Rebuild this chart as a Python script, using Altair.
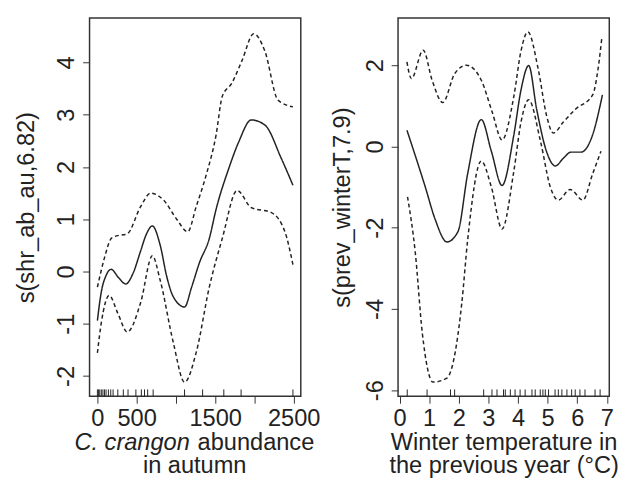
import altair as alt
import pandas as pd

FONT = "Liberation Sans"
INK = "#222222"

# ---- left panel: C. crangon abundance in autumn ----
fit_x_l = [0, 50, 110, 175, 270, 360, 450, 550, 620, 700, 800, 885, 965, 1110, 1200, 1300, 1425, 1510, 1675, 1800, 1960, 2135, 2340, 2490]
fit_y_l = [-0.94, -0.39, -0.08, 0.04, -0.12, -0.24, -0.05, 0.39, 0.7, 0.87, 0.5, -0.11, -0.48, -0.68, -0.3, 0.17, 0.63, 1.18, 1.98, 2.48, 2.9, 2.8, 2.17, 1.65]
up_x_l = [0, 90, 175, 220, 380, 550, 680, 840, 1010, 1150, 1260, 1390, 1510, 1590, 1710, 1840, 1990, 2130, 2300, 2490]
up_y_l = [-0.3, 0.26, 0.63, 0.67, 0.72, 1.24, 1.5, 1.37, 1.0, 0.76, 1.25, 1.87, 2.6, 3.35, 3.6, 4.03, 4.55, 4.23, 3.28, 3.15]
lo_x_l = [0, 50, 150, 260, 380, 550, 700, 800, 965, 1110, 1260, 1425, 1590, 1780, 1960, 2210, 2390, 2490]
lo_y_l = [-1.56, -0.98, -0.46, -0.8, -1.16, -0.6, 0.3, -0.17, -1.35, -2.12, -1.54, -0.3, 0.63, 1.55, 1.22, 1.13, 0.75, 0.13]
rug_l = [0, 15, 30, 50, 70, 90, 110, 140, 170, 200, 260, 330, 390, 490, 560, 600, 640, 710, 1110, 1340, 1610, 1830, 2490]
xticks_l = [0, 500, 1000, 1500, 2000, 2500]
yticks_l = [-2, -1, 0, 1, 2, 3, 4]

# ---- right panel: winter temperature in the previous year ----
fit_x_r = [0.25, 0.87, 1.2, 1.6, 1.97, 2.3, 2.76, 3.1, 3.46, 3.86, 4.1, 4.36, 4.63, 4.96, 5.26, 5.53, 5.79, 6.13, 6.5, 6.85]
fit_y_r = [0.4, -1.0, -1.79, -2.35, -2.1, -0.67, 0.66, -0.12, -0.96, 0.29, 1.39, 1.99, 0.91, -0.12, -0.48, -0.29, -0.14, -0.14, 0.25, 1.27]
up_x_r = [0.25, 0.4, 0.8, 1.1, 1.46, 1.86, 2.26, 2.76, 3.13, 3.46, 3.86, 4.1, 4.33, 4.69, 4.96, 5.19, 5.53, 5.93, 6.52, 6.7, 6.83]
up_y_r = [2.08, 1.67, 2.37, 1.63, 1.08, 1.79, 2.0, 1.63, 0.84, 0.16, 1.24, 2.35, 2.82, 1.87, 0.77, 0.33, 0.6, 0.91, 1.27, 1.9, 2.68]
lo_x_r = [0.27, 0.53, 0.77, 1.13, 1.6, 1.76, 2.1, 2.3, 2.76, 3.1, 3.46, 3.86, 4.1, 4.36, 4.76, 5.09, 5.36, 5.76, 6.19, 6.52, 6.8]
lo_y_r = [-1.24, -2.6, -4.6, -5.8, -5.7, -5.46, -3.87, -2.3, -0.36, -1.0, -2.03, -0.6, 0.6, 1.15, 0.12, -1.0, -1.32, -1.06, -1.32, -0.67, -0.12]
rug_r = [0.26, 0.93, 1.72, 1.86, 2.84, 3.12, 3.29, 3.51, 3.57, 3.74, 3.9, 4.07, 4.24, 4.47, 4.58, 4.75, 4.84, 4.92, 5.03, 5.25, 5.36, 5.48, 5.65, 5.81, 5.93, 6.09, 6.26, 6.6, 6.77]
xticks_r = [0, 1, 2, 3, 4, 5, 6, 7]
yticks_r = [-6, -4, -2, 0, 2]

W, H = 215, 385


def panel(fx, fy, ux, uy, lx, ly, rug, xdom, ydom, xticks, yticks, ytitle, xaxis_kw, yaxis_kw, extra=None):
    xs = alt.Scale(domain=xdom, nice=False, zero=False)
    ys = alt.Scale(domain=ydom, nice=False, zero=False)
    xax = alt.Axis(values=xticks, format="d", labelPadding=4, labelFlush=False, **xaxis_kw)
    yax = alt.Axis(values=yticks, title=ytitle, labelAngle=-90, labelAlign="center",
                   labelBaseline="bottom", labelExpr="datum.value + ''", **yaxis_kw)

    def line(xv, yv, dash):
        df = pd.DataFrame({"x": xv, "y": yv})
        return alt.Chart(df).mark_line(color=INK, strokeWidth=1.5, strokeDash=dash,
                                       interpolate="monotone").encode(
            x=alt.X("x:Q", scale=xs, axis=xax), y=alt.Y("y:Q", scale=ys, axis=yax))

    rdf = pd.DataFrame({"x": rug})
    rugm = alt.Chart(rdf).mark_rule(color=INK, strokeWidth=1).encode(
        x=alt.X("x:Q", scale=xs, axis=xax), y=alt.value(H), y2=alt.value(H - 7))
    layers = [line(fx, fy, [1, 0]), line(ux, uy, [4, 3]), line(lx, ly, [4, 3]), rugm]
    if extra:
        layers += extra
    return alt.layer(*layers).properties(width=W, height=H)


one = pd.DataFrame({"k": [0]})
title_l = [
    alt.Chart(one).mark_text(text="C. crangon", fontStyle="italic", align="right", baseline="middle",
                             font=FONT, fontSize=24, color=INK).encode(x=alt.value(102), y=alt.value(433)),
    alt.Chart(one).mark_text(text="abundance", align="left", baseline="middle",
                             font=FONT, fontSize=24, color=INK).encode(x=alt.value(110), y=alt.value(433)),
    alt.Chart(one).mark_text(text="in autumn", align="center", baseline="middle",
                             font=FONT, fontSize=24, color=INK).encode(x=alt.value(107), y=alt.value(456)),
]

left = panel(fit_x_l, fit_y_l, up_x_l, up_y_l, lo_x_l, lo_y_l, rug_l,
             [-100, 2590], [-2.39, 4.85], xticks_l, yticks_l, "s(shr_ab_au,6.82)",
             dict(title="", labelExpr="datum.value == 1000 || datum.value == 2000 ? '' : datum.label"),
             dict(labelPadding=4, titlePadding=17), extra=title_l)

right = panel(fit_x_r, fit_y_r, up_x_r, up_y_r, lo_x_r, lo_y_r, rug_r,
              [-0.05, 7.08], [-6.15, 3.16], xticks_r, yticks_r, "s(prev_winterT,7.9)",
              dict(title=["Winter temperature in", "the previous year (°C)"], titleLineHeight=24,
                   titlePadding=0),
              dict(labelPadding=4, titlePadding=9))

chart = alt.hconcat(left, right, spacing=9).properties(
    padding={"left": 6, "top": 5, "right": 5, "bottom": 0},
    background="white",
).configure_view(stroke="#333333", strokeWidth=1.5).configure_axis(
    domain=False, grid=False, tickColor="#333333", tickSize=7, tickWidth=1,
    labelFont=FONT, labelFontSize=24, labelColor=INK,
    titleFont=FONT, titleFontSize=24, titleFontWeight="normal", titleColor=INK
)

chart.save("out.html", embed_options={"renderer": "svg", "actions": False})
